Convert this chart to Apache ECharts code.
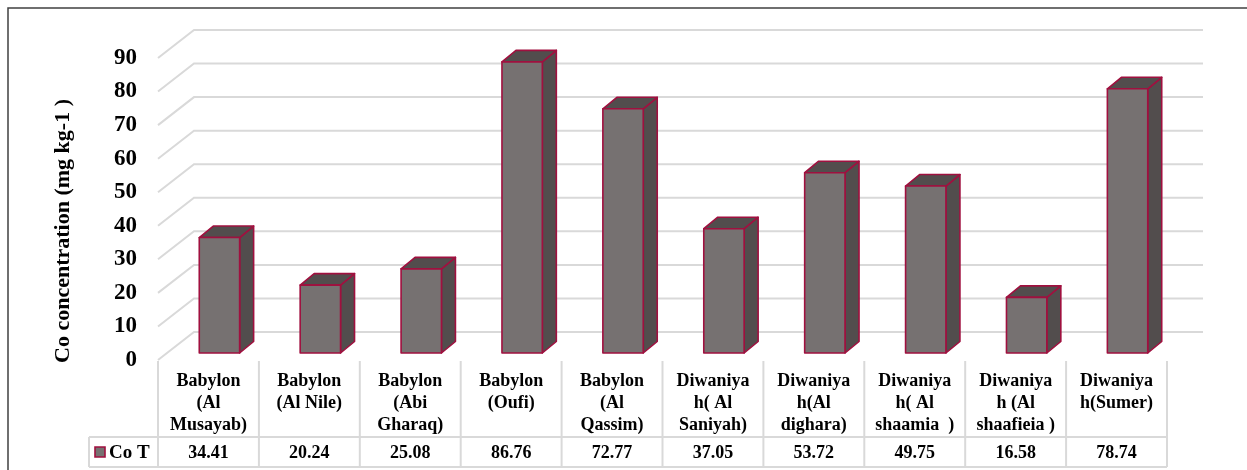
<!DOCTYPE html>
<html>
<head>
<meta charset="utf-8">
<script src="https://cdn.jsdelivr.net/npm/echarts@6/dist/echarts.min.js"></script>
<style>
  html, body { margin: 0; padding: 0; background: #fff; }
  #chart { width: 1247px; height: 470px; }
</style>
</head>
<body>
<div id="chart"></div>
<script>
// Sampling sites (line breaks as laid out in the table cells)
const categories = [
  'Babylon\n(Al\nMusayab)',
  'Babylon\n(Al Nile)',
  'Babylon\n(Abi\nGharaq)',
  'Babylon\n(Oufi)',
  'Babylon\n(Al\nQassim)',
  'Diwaniya\nh( Al\nSaniyah)',
  'Diwaniya\nh(Al\ndighara)',
  'Diwaniya\nh( Al\nshaamia  )',
  'Diwaniya\nh (Al\nshaafieia )',
  'Diwaniya\nh(Sumer)'
];
// Co T concentration, mg kg-1
const coT = [34.41, 20.24, 25.08, 86.76, 72.77, 37.05, 53.72, 49.75, 16.58, 78.74];
const yTicks = [0, 10, 20, 30, 40, 50, 60, 70, 80, 90];
const seriesName = 'Co T';
const yTitle = 'Co concentration (mg kg-1 )';

const FONT = "'Liberation Serif', 'Times New Roman', serif";
const FACE = '#767171';
const SHADE = '#524d4d';
const EDGE = '#a0103f';
const GRID = '#d9d9d9';

// oblique depth of the back wall and of the bars
const WALL_DX = 36, WALL_DY = -28;
const BAR_DX = 11, BAR_DY = -7;
const DEPTH_DX = 14, DEPTH_DY = -11.5;
// data table rows
const ROW1_H = 77, ROW2_H = 30, KEY_W = 69;

const chart = echarts.init(document.getElementById('chart'));

function gridRender(params, api) {
  const cs = params.coordSys;
  const v = api.value(0);
  const y = api.coord([0, v])[1];
  const x0 = cs.x, x1 = cs.x + cs.width;
  return {
    type: 'polyline',
    shape: { points: [[x0, y], [x0 + WALL_DX, y + WALL_DY], [x1 + WALL_DX, y + WALL_DY]] },
    style: { stroke: GRID, lineWidth: 2, fill: null }
  };
}

function barRender(params, api) {
  const cs = params.coordSys;
  const i = api.value(0);
  const v = api.value(1);
  const base = api.coord([i, 0]);
  const top = api.coord([i, v]);
  const band = api.size([1, 0])[0];
  const w = band * 0.4;
  const fx = base[0] + BAR_DX - w / 2;
  const fy0 = base[1] + BAR_DY;
  const fy1 = top[1] + BAR_DY;
  const edge = { stroke: EDGE, lineWidth: 1.6, lineJoin: 'round' };

  const tableTop = cs.y + cs.height + 1;
  const rowSplit = cs.y + cs.height + ROW1_H;
  const tableBot = rowSplit + ROW2_H;
  const left = base[0] - band / 2;

  const children = [
    {
      type: 'polygon',
      shape: { points: [[fx + w, fy1], [fx + w, fy0], [fx + w + DEPTH_DX, fy0 + DEPTH_DY], [fx + w + DEPTH_DX, fy1 + DEPTH_DY]] },
      style: Object.assign({ fill: SHADE }, edge)
    },
    {
      type: 'polygon',
      shape: { points: [[fx, fy1], [fx + w, fy1], [fx + w + DEPTH_DX, fy1 + DEPTH_DY], [fx + DEPTH_DX, fy1 + DEPTH_DY]] },
      style: Object.assign({ fill: SHADE }, edge)
    },
    {
      type: 'rect',
      shape: { x: fx, y: fy1, width: w, height: fy0 - fy1 },
      style: Object.assign({ fill: FACE }, edge)
    },
    {
      type: 'line',
      shape: { x1: left, y1: tableTop, x2: left, y2: tableBot },
      style: { stroke: GRID, lineWidth: 2 }
    },
    {
      type: 'text',
      style: {
        x: base[0], y: tableTop + 9, text: categories[i],
        align: 'center', verticalAlign: 'top', lineHeight: 22,
        font: 'bold 18px ' + FONT, fill: '#000'
      }
    },
    {
      type: 'text',
      style: {
        x: base[0], y: rowSplit + ROW2_H / 2 + 1, text: v.toFixed(2),
        align: 'center', verticalAlign: 'middle',
        font: 'bold 18px ' + FONT, fill: '#000'
      }
    }
  ];
  if (i === categories.length - 1) {
    const right = base[0] + band / 2;
    children.push({
      type: 'line',
      shape: { x1: right, y1: tableTop, x2: right, y2: tableBot },
      style: { stroke: GRID, lineWidth: 2 }
    });
  }
  return { type: 'group', children: children };
}

function tableRender(params, api) {
  const cs = params.coordSys;
  const rowSplit = cs.y + cs.height + ROW1_H;
  const tableBot = rowSplit + ROW2_H;
  const x0 = cs.x - KEY_W, x1 = cs.x + cs.width;
  const line = { stroke: GRID, lineWidth: 2 };
  return {
    type: 'group',
    children: [
      { type: 'line', shape: { x1: x0, y1: rowSplit, x2: x1, y2: rowSplit }, style: line },
      { type: 'line', shape: { x1: x0, y1: tableBot, x2: x1, y2: tableBot }, style: line },
      { type: 'line', shape: { x1: x0, y1: rowSplit, x2: x0, y2: tableBot }, style: line },
      {
        type: 'rect',
        shape: { x: x0 + 6, y: rowSplit + ROW2_H / 2 - 5, width: 10, height: 10 },
        style: { fill: FACE, stroke: EDGE, lineWidth: 1.6 }
      },
      {
        type: 'text',
        style: {
          x: x0 + 20, y: rowSplit + ROW2_H / 2 + 1, text: seriesName,
          align: 'left', verticalAlign: 'middle',
          font: 'bold 19px ' + FONT, fill: '#000'
        }
      }
    ]
  };
}

chart.setOption({
  animation: false,
  grid: { left: 158, right: 80, top: 58, bottom: 110 },
  xAxis: {
    type: 'category',
    data: categories,
    axisLine: { show: false },
    axisTick: { show: false },
    axisLabel: { show: false },
    splitLine: { show: false }
  },
  yAxis: {
    type: 'value',
    min: 0, max: 90, interval: 10,
    axisLine: { show: false },
    axisTick: { show: false },
    splitLine: { show: false },
    axisLabel: {
      margin: 21, color: '#000', fontSize: 23, fontWeight: 'bold', fontFamily: FONT
    }
  },
  graphic: [
    {
      type: 'rect',
      shape: { x: 8, y: 8, width: 1400, height: 700 },
      style: { fill: null, stroke: '#404040', lineWidth: 1.5 },
      silent: true
    },
    {
      type: 'text',
      x: 63, y: 231, rotation: Math.PI / 2,
      style: {
        text: yTitle, align: 'center', verticalAlign: 'middle',
        font: 'bold 22px ' + FONT, fill: '#000'
      }
    }
  ],
  series: [
    {
      type: 'custom',
      name: 'grid',
      renderItem: gridRender,
      data: yTicks.map(t => [t]),
      z: 1,
      silent: true
    },
    {
      type: 'custom',
      name: 'table',
      renderItem: tableRender,
      data: [[0]],
      z: 1,
      silent: true
    },
    {
      type: 'custom',
      name: seriesName,
      renderItem: barRender,
      encode: { x: 0, y: 1 },
      data: coT.map((v, i) => [i, v]),
      z: 2
    }
  ]
});
</script>
</body>
</html>
